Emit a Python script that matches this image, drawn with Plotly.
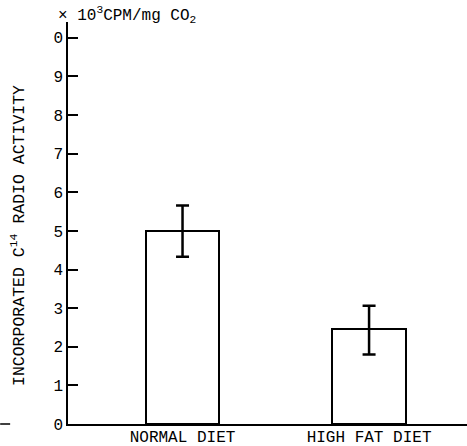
import plotly.graph_objects as go

categories = ["NORMAL DIET", "HIGH FAT DIET"]
values = [5.0, 2.46]
err_plus = [0.66, 0.60]
err_minus = [0.67, 0.66]
y_tickvals = [0, 1, 2, 3, 4, 5, 6, 7, 8, 9, 10]
y_ticktext = ["0", "1", "2", "3", "4", "5", "6", "7", "8", "9", "0"]

FONT = "Liberation Mono, Courier New, monospace"

fig = go.Figure()
fig.add_trace(go.Bar(
    x=[0, 1], y=values, width=0.395,
    marker=dict(color="white", line=dict(color="black", width=2)),
    error_y=dict(type="data", symmetric=False, array=err_plus, arrayminus=err_minus,
                 color="black", thickness=2.5, width=6.5),
    showlegend=False,
))

fig.update_layout(
    width=467, height=446,
    margin=dict(l=68, r=0, t=22, b=22),
    paper_bgcolor="white", plot_bgcolor="white",
    font=dict(family=FONT, color="black", size=15),
    bargap=0,
    xaxis=dict(range=[-0.614, 1.525], tickvals=[0, 1], ticktext=categories,
               showgrid=False, zeroline=False, showline=True, linecolor="black",
               linewidth=1.5, ticks="", automargin=False, ticklabelstandoff=-3,
               tickfont=dict(size=16, family=FONT)),
    yaxis=dict(range=[0, 10.41], tickvals=y_tickvals, ticktext=y_ticktext,
               showgrid=False, zeroline=False, showline=True, linecolor="black",
               linewidth=1.5, ticks="inside", ticklen=10, tickwidth=1.5, tickcolor="black",
               automargin=False, tickfont=dict(size=16, family=FONT)),
    annotations=[
        dict(text="INCORPORATED C<sup>14</sup> RADIO ACTIVITY", textangle=-90,
             xref="paper", yref="paper", x=-0.125, y=0.468, xanchor="center", yanchor="middle",
             showarrow=False, font=dict(size=16.5, family=FONT)),
        dict(text="× 10<sup>3</sup>CPM/mg CO<sub>2</sub>",
             xref="paper", yref="paper", x=-0.03, y=1.018, xanchor="left", yanchor="middle",
             showarrow=False, font=dict(size=16, family=FONT)),
    ],
    shapes=[dict(type="line", xref="paper", yref="paper", x0=-0.17, x1=-0.145, y0=0, y1=0,
                 line=dict(color="black", width=1.5))],
)

fig.write_html("out.html", config={"displayModeBar": False},
               post_script="document.body.style.margin='0px';")
